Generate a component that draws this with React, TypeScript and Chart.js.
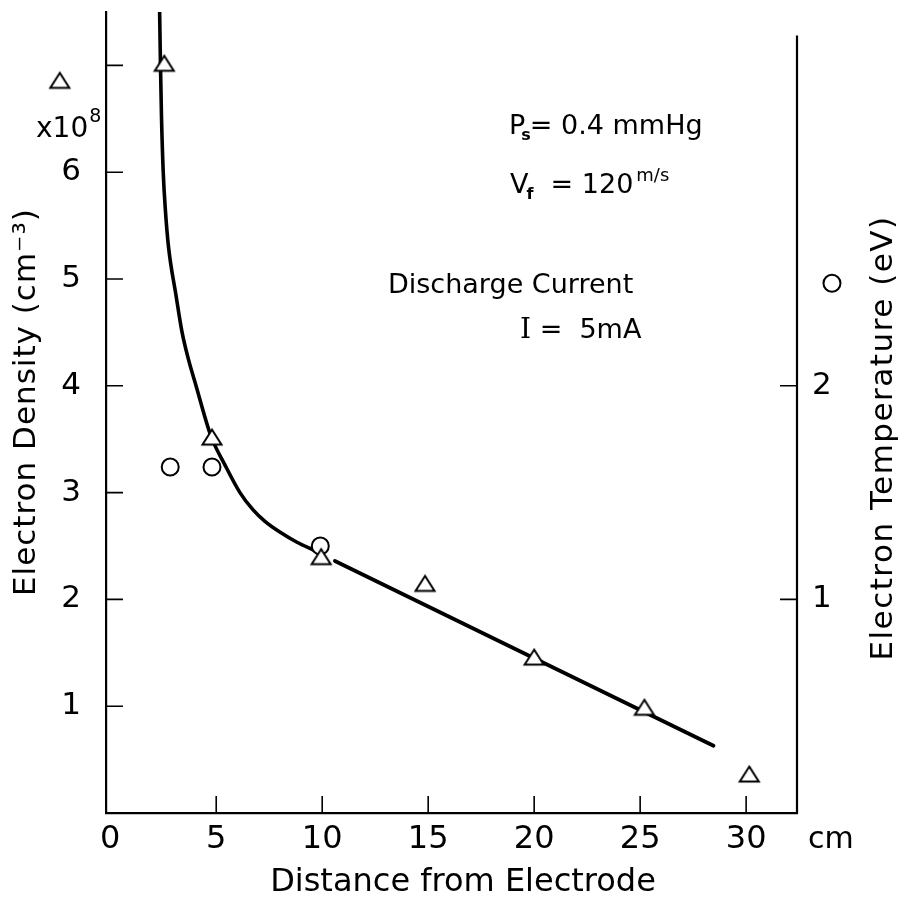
import React, { useEffect, useRef } from 'react';
import { Chart, registerables } from 'chart.js';

Chart.register(...registerables);

const FONT = '"DejaVu Sans", sans-serif';
const SERIF = '"DejaVu Serif", serif';

// Distance from electrode (cm) and electron density (x10^8 cm^-3), triangles
const DENSITY_X = [2.55, 4.8, 9.95, 14.85, 20.0, 25.2, 30.15];
const DENSITY_Y = [7.02, 3.52, 2.4, 2.15, 1.46, 0.99, 0.365];

// Electron temperature (eV), circles
const TEMP_X = [2.83, 4.8, 9.91];
const TEMP_Y = [1.62, 1.62, 1.25];

// Hand-drawn density curve near the electrode
const CURVE_X = [2.33, 2.37, 2.42, 2.5, 2.6, 2.75, 3.1, 3.39, 3.7, 4.02, 4.75, 5.41, 6.12, 6.73, 7.3, 8.0, 8.81, 9.61];
const CURVE_Y = [7.5, 7.0, 6.5, 6.0, 5.65, 5.3, 4.85, 4.5, 4.24, 4.02, 3.53, 3.26, 3.0, 2.84, 2.73, 2.63, 2.535, 2.46];

// Straight fall-off beyond 10 cm
const LINE_X = [10.6, 28.46];
const LINE_Y = [2.36, 0.63];

// Key symbols placed beside each axis (outside the plot frame)
const KEY_TRI_X = [-2.38];
const KEY_TRI_Y = [6.86];
const KEY_CIRC_X = [34.05];
const KEY_CIRC_Y = [2.48];

// Axis ticks
const X_TICKS = [0, 5, 10, 15, 20, 25, 30];
const X_TICK_MARKS = [5, 10, 15, 20, 25, 30];
const Y_TICKS = [1, 2, 3, 4, 5, 6, 7];
const Y_LABELED_MAX = 6;
const T_TICKS = [1, 2];

const X_MIN = -0.2;
const X_MAX = 32.4;
const Y_MAX = 7.5;
const T_MAX = 3.75;
const T_AXIS_TOP = 3.64;

const CIRCLE_R = 8.5;

const pts = (xs: number[], ys: number[]) => xs.map((x, i) => ({ x, y: ys[i] }));

function makeTriangle(): HTMLCanvasElement {
  const c = document.createElement('canvas');
  c.width = 24;
  c.height = 20;
  const g = c.getContext('2d')!;
  g.fillStyle = '#fff';
  g.strokeStyle = '#000';
  g.lineWidth = 2;
  g.lineJoin = 'miter';
  g.beginPath();
  g.moveTo(12, 2.5);
  g.lineTo(21.5, 17.5);
  g.lineTo(2.5, 17.5);
  g.closePath();
  g.fill();
  g.stroke();
  return c;
}

type Part = { t: string; size: number; dy?: number; bold?: boolean; family?: string; dx?: number };

function drawParts(ctx: CanvasRenderingContext2D, parts: Part[], x: number, y: number) {
  let cx = x;
  for (const p of parts) {
    ctx.font = `${p.bold ? 'bold ' : ''}${p.size}px ${p.family || FONT}`;
    cx += p.dx || 0;
    ctx.fillText(p.t, cx, y + (p.dy || 0));
    cx += ctx.measureText(p.t).width;
  }
}

// Fixed scale footprint so the plot frame sits where it should
const pinScale = (size: { width?: number; height?: number }) => (s: any) => {
  if (size.width !== undefined) s.width = size.width;
  if (size.height !== undefined) s.height = size.height;
  s.paddingTop = 0;
  s.paddingBottom = 0;
  s.paddingLeft = 0;
  s.paddingRight = 0;
};

const makeFramePlugin = (tri: HTMLCanvasElement) => ({
  id: 'frame',
  afterDraw(chart: any) {
    const { ctx, chartArea, scales } = chart;
    const xs = scales.x;
    const ys = scales.y;
    const ts = scales.y1;
    const TL = 17;
    ctx.save();
    ctx.strokeStyle = '#000';
    ctx.lineWidth = 1.6;
    ctx.beginPath();
    // inward tick marks
    for (const v of X_TICK_MARKS) {
      const px = xs.getPixelForValue(v);
      ctx.moveTo(px, chartArea.bottom);
      ctx.lineTo(px, chartArea.bottom - TL);
    }
    for (const v of Y_TICKS) {
      const py = ys.getPixelForValue(v);
      ctx.moveTo(chartArea.left, py);
      ctx.lineTo(chartArea.left + TL, py);
    }
    for (const v of T_TICKS) {
      const py = ts.getPixelForValue(v);
      ctx.moveTo(chartArea.right, py);
      ctx.lineTo(chartArea.right - TL, py);
    }
    ctx.stroke();
    // right-hand axis line
    ctx.lineWidth = 2.2;
    ctx.beginPath();
    ctx.moveTo(chartArea.right, ts.getPixelForValue(T_AXIS_TOP));
    ctx.lineTo(chartArea.right, chartArea.bottom + 1);
    ctx.stroke();

    // key symbols beside the axes
    KEY_TRI_X.forEach((v, i) => {
      const px = xs.getPixelForValue(v);
      const py = ys.getPixelForValue(KEY_TRI_Y[i]);
      ctx.drawImage(tri, px - tri.width / 2, py - tri.height / 2);
    });
    KEY_CIRC_X.forEach((v, i) => {
      const px = xs.getPixelForValue(v);
      const py = ts.getPixelForValue(KEY_CIRC_Y[i]);
      ctx.lineWidth = 2;
      ctx.beginPath();
      ctx.arc(px, py, CIRCLE_R, 0, Math.PI * 2);
      ctx.fillStyle = '#fff';
      ctx.fill();
      ctx.stroke();
    });

    ctx.fillStyle = '#000';
    ctx.textBaseline = 'alphabetic';
    ctx.textAlign = 'left';

    // axis titles
    ctx.save();
    ctx.font = `31px ${FONT}`;
    (ctx as any).letterSpacing = '1px';
    ctx.textAlign = 'center';
    ctx.textBaseline = 'middle';
    ctx.translate(27, 402);
    ctx.rotate(-Math.PI / 2);
    ctx.fillText('Electron Density (cm\u207B\u00B3)', 0, 0);
    ctx.restore();

    ctx.save();
    ctx.font = `31px ${FONT}`;
    (ctx as any).letterSpacing = '1.5px';
    ctx.textAlign = 'center';
    ctx.textBaseline = 'middle';
    ctx.translate(884, 438);
    ctx.rotate(-Math.PI / 2);
    ctx.fillText('Electron Temperature (eV)', 0, 0);
    ctx.restore();

    ctx.save();
    ctx.font = `32px ${FONT}`;
    ctx.textAlign = 'center';
    ctx.fillText('Distance from Electrode', 463, 891);
    ctx.restore();

    // unit labels
    ctx.font = `30px ${FONT}`;
    ctx.fillText('cm', 808, 848);
    drawParts(ctx, [
      { t: 'x10', size: 28 },
      { t: '8', size: 19, dy: -15, dx: 1 },
    ], 36, 137);

    // run conditions
    drawParts(ctx, [
      { t: 'P', size: 27 },
      { t: 's', size: 16, dy: 6, bold: true, dx: -4 },
      { t: '= 0.4 mmHg', size: 27, dx: -1 },
    ], 509, 134);
    drawParts(ctx, [
      { t: 'V', size: 27 },
      { t: 'f', size: 16, dy: 6, bold: true, dx: -2 },
      { t: '  = 120', size: 27 },
      { t: 'm/s', size: 18, dy: -12, dx: 3 },
    ], 510, 193);
    ctx.font = `27px ${FONT}`;
    ctx.fillText('Discharge Current', 388, 293);
    drawParts(ctx, [
      { t: 'I', size: 28, family: SERIF },
      { t: ' =  5mA', size: 27 },
    ], 520, 338);
    ctx.restore();
  },
});

export default function App() {
  const ref = useRef<HTMLCanvasElement | null>(null);

  useEffect(() => {
    if (!ref.current) return;
    const tri = makeTriangle();
    const chart = new Chart(ref.current, {
      type: 'scatter',
      data: {
        datasets: [
          {
            label: 'Electron density',
            data: pts(DENSITY_X, DENSITY_Y),
            pointStyle: tri,
            pointRadius: 10,
            yAxisID: 'y',
            order: 0,
          },
          {
            label: 'Electron temperature',
            data: pts(TEMP_X, TEMP_Y),
            pointStyle: 'circle',
            pointRadius: CIRCLE_R,
            borderWidth: 2,
            borderColor: '#000',
            backgroundColor: '#fff',
            yAxisID: 'y1',
            order: 0,
          },
          {
            type: 'line',
            label: 'density curve',
            data: pts(CURVE_X, CURVE_Y),
            borderColor: '#000',
            borderWidth: 3.6,
            pointRadius: 0,
            cubicInterpolationMode: 'monotone',
            borderCapStyle: 'round',
            borderJoinStyle: 'round',
            yAxisID: 'y',
            order: 1,
          } as any,
          {
            type: 'line',
            label: 'density fall-off',
            data: pts(LINE_X, LINE_Y),
            borderColor: '#000',
            borderWidth: 3.8,
            pointRadius: 0,
            borderCapStyle: 'round',
            yAxisID: 'y',
            order: 1,
          } as any,
        ],
      },
      options: {
        animation: false,
        responsive: false,
        maintainAspectRatio: false,
        layout: { padding: { top: 12, left: 0, right: 0, bottom: 0 } },
        plugins: { legend: { display: false }, tooltip: { enabled: false } },
        scales: {
          x: {
            type: 'linear',
            min: X_MIN,
            max: X_MAX,
            afterBuildTicks: (s: any) => {
              s.ticks = X_TICKS.map((value) => ({ value }));
            },
            afterFit: pinScale({ height: 92 }),
            grid: { display: false, drawTicks: false },
            border: { display: true, color: '#000', width: 2.2 },
            ticks: {
              color: '#000',
              padding: 7,
              font: { family: FONT, size: 32 },
              callback: (v: any) => String(v),
            },
          },
          y: {
            type: 'linear',
            position: 'left',
            min: 0,
            max: Y_MAX,
            afterBuildTicks: (s: any) => {
              s.ticks = Y_TICKS.map((value) => ({ value }));
            },
            afterFit: pinScale({ width: 106 }),
            grid: { display: false, drawTicks: false },
            border: { display: true, color: '#000', width: 2.2 },
            ticks: {
              color: '#000',
              padding: 25,
              font: { family: FONT, size: 31 },
              callback: (v: any) => (v <= Y_LABELED_MAX ? String(v) : ''),
            },
          },
          y1: {
            type: 'linear',
            position: 'right',
            min: 0,
            max: T_MAX,
            afterBuildTicks: (s: any) => {
              s.ticks = T_TICKS.map((value) => ({ value }));
            },
            afterFit: pinScale({ width: 107 }),
            grid: { display: false, drawTicks: false },
            border: { display: false },
            ticks: {
              color: '#000',
              padding: 15,
              font: { family: FONT, size: 31 },
              callback: (v: any) => String(v),
            },
          },
        },
      },
      plugins: [makeFramePlugin(tri)],
    });
    return () => chart.destroy();
  }, []);

  return (
    <div style={{ position: 'fixed', left: 0, top: 0, width: 904, height: 905, background: '#fff' }}>
      <canvas ref={ref} width={904} height={905} style={{ width: 904, height: 905, display: 'block' }} />
    </div>
  );
}
